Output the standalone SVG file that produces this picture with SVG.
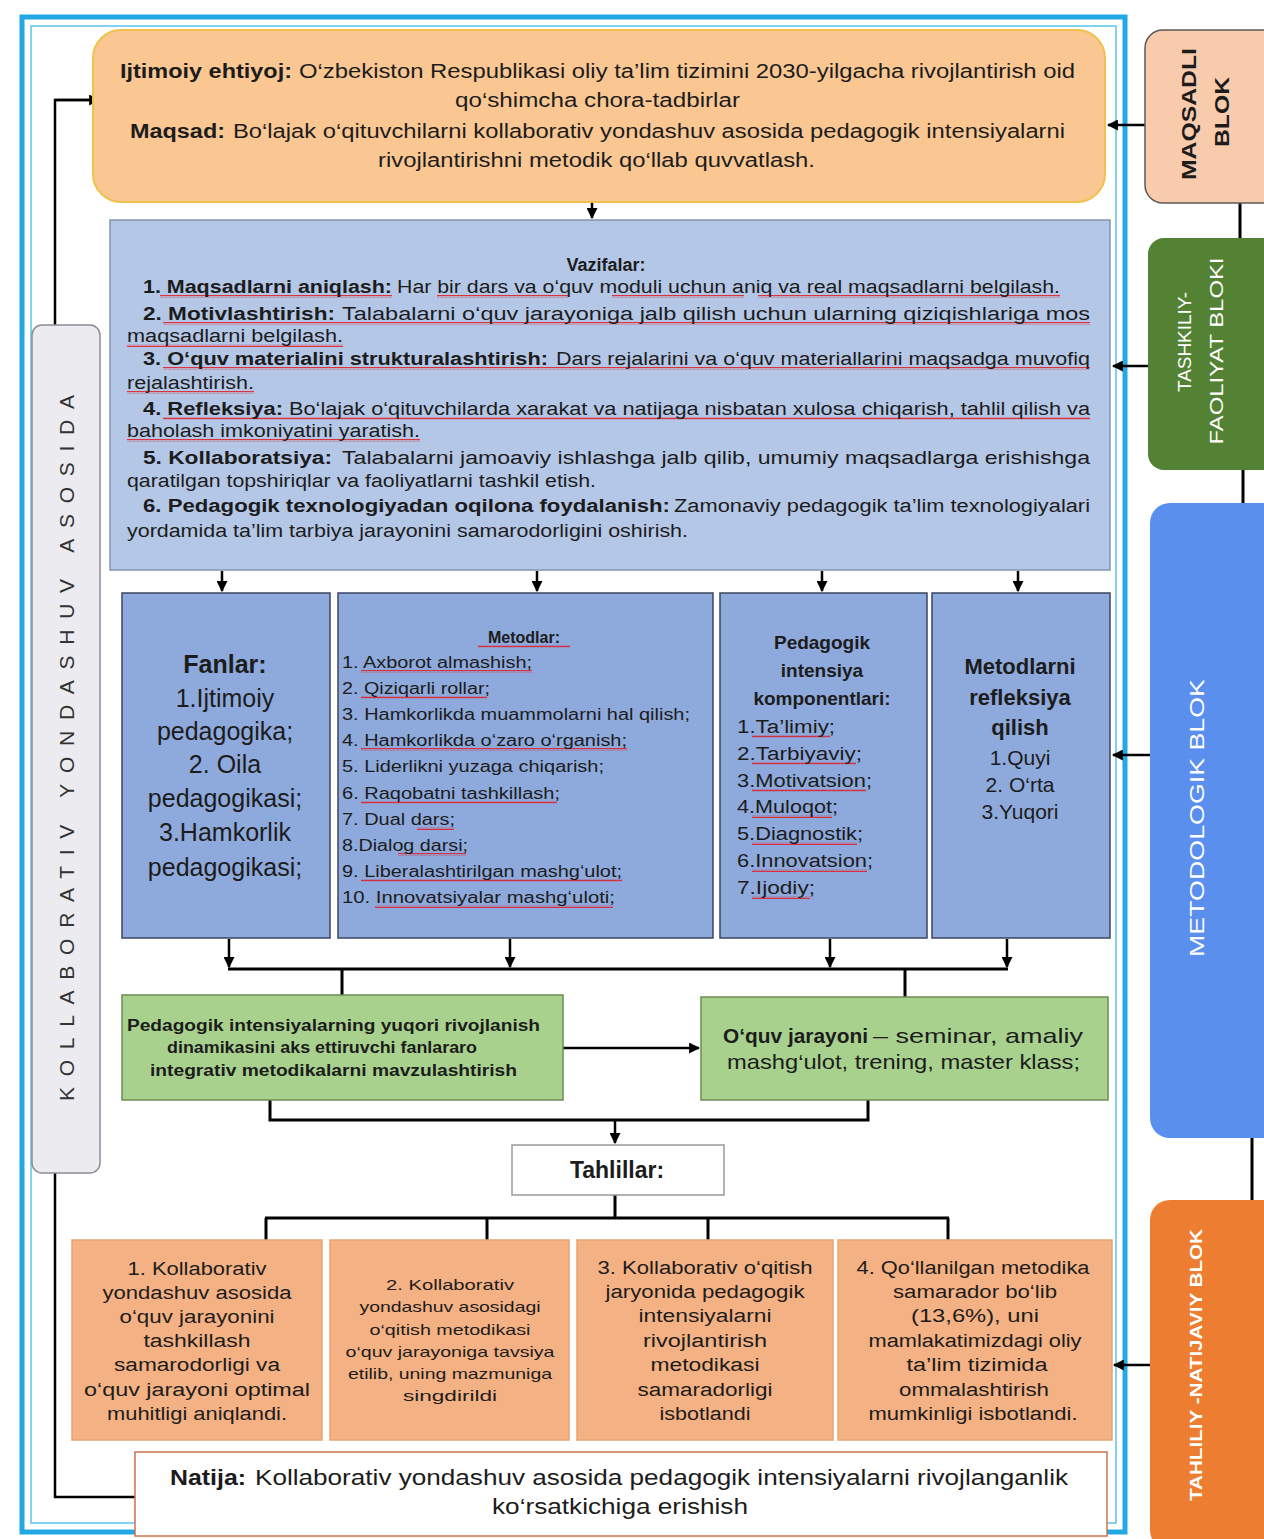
<svg xmlns="http://www.w3.org/2000/svg" width="1264" height="1539" viewBox="0 0 1264 1539">
<style>
text{font-family:"Liberation Sans",Arial,sans-serif;fill:#1c1c1c}
.b{font-weight:bold}
.w{fill:#ffffff}
.ln{fill:none;stroke:#000;stroke-width:3}
.ar{fill:none;stroke:#000;stroke-width:2.5;marker-end:url(#ah)}
.col{fill:#8EA9DB;stroke:#3A4660;stroke-width:1.5}
.org{fill:#F4B183;stroke:#E9A474;stroke-width:1.5}
.grn{fill:#A9D18E;stroke:#6E8C52;stroke-width:1.5}
.wv{fill:url(#wave)}
</style>
<defs>
<marker id="ah" viewBox="0 0 10 10" refX="9" refY="5" markerWidth="4.4" markerHeight="4.4" orient="auto" markerUnits="strokeWidth">
<path d="M0,0 L10,5 L0,10 z" fill="#000"/>
</marker>
<pattern id="wave" width="4" height="3" patternUnits="userSpaceOnUse">
<path d="M0 2.3 L1 0.7 L2 2.3 L3 0.7 L4 2.3" fill="none" stroke="#E0202A" stroke-width="0.9"/>
</pattern>
</defs>
<rect width="1264" height="1539" fill="#ffffff"/>

<!-- frame -->
<g id="frame">
<rect x="22" y="17" width="1103" height="1515" fill="none" stroke="#22A8E4" stroke-width="5"/>
<rect x="31" y="26" width="1085" height="1497" fill="none" stroke="#5BC3EE" stroke-width="1.5"/>
</g>

<!-- connectors -->
<g id="connectors">
<polyline class="ln" points="135,1497 55,1497 55,100 92,100" style="stroke-width:2.5"/>
<path class="ar" d="M55,100 L99,100"/>
<path class="ar" d="M592,203 L592,218"/>
<path class="ar" d="M222,571 L222,591"/>
<path class="ar" d="M537,571 L537,591"/>
<path class="ar" d="M822,571 L822,591"/>
<path class="ar" d="M1018,571 L1018,591"/>
<path class="ar" d="M229,939 L229,967"/>
<path class="ar" d="M510,939 L510,967"/>
<path class="ar" d="M830,939 L830,967"/>
<path class="ar" d="M1007,939 L1007,967"/>
<path class="ln" d="M228,969 L1008,969 M342,969 L342,995 M905,969 L905,997"/>
<path class="ar" d="M563,1048 L699,1048"/>
<polyline class="ln" points="270,1100 270,1120 868,1120 868,1100"/>
<path class="ar" d="M615,1120 L615,1143"/>
<path class="ln" d="M615,1195 L615,1218 M265,1218 L949,1218 M266,1218 L266,1240 M487,1218 L487,1240 M708,1218 L708,1240 M948,1218 L948,1240"/>
<path class="ar" d="M1145,125 L1108,125"/>
<path class="ar" d="M1148,366 L1113,366"/>
<path class="ar" d="M1150,755 L1113,755"/>
<path class="ar" d="M1150,1365 L1114,1365"/>
<path class="ln" d="M1240,203 L1240,238 M1243,470 L1243,503 M1252,1138 L1252,1200"/>
</g>

<!-- top goal box -->
<g id="maqsad">
<rect x="93" y="30" width="1012" height="172" rx="28" fill="#FAC793" stroke="#F1C24B" stroke-width="2"/>
<text class="b" x="120" y="78" font-size="20" textLength="172" lengthAdjust="spacingAndGlyphs">Ijtimoiy ehtiyoj:</text>
<text x="299" y="78" font-size="20" textLength="776" lengthAdjust="spacingAndGlyphs">O‘zbekiston Respublikasi oliy ta’lim tizimini 2030-yilgacha rivojlantirish oid</text>
<text x="455" y="107" font-size="20" textLength="285" lengthAdjust="spacingAndGlyphs">qo‘shimcha chora-tadbirlar</text>
<text class="b" x="130" y="138" font-size="20" textLength="95" lengthAdjust="spacingAndGlyphs">Maqsad:</text>
<text x="233" y="138" font-size="20" textLength="832" lengthAdjust="spacingAndGlyphs">Bo‘lajak o‘qituvchilarni kollaborativ yondashuv asosida pedagogik intensiyalarni</text>
<text x="378" y="167" font-size="20" textLength="437" lengthAdjust="spacingAndGlyphs">rivojlantirishni metodik qo‘llab quvvatlash.</text>
</g>

<!-- vazifalar -->
<g id="vazifalar">
<rect x="110" y="220" width="1000" height="350" fill="#B4C7E7" stroke="#8494B0" stroke-width="1.5"/>
<text class="b" x="606" y="271" font-size="18" text-anchor="middle">Vazifalar:</text>
<rect class="wv" x="160" y="295" width="232" height="3"/>
<rect class="wv" x="437" y="295" width="131" height="3"/>
<rect class="wv" x="612" y="295" width="132" height="3"/>
<rect class="wv" x="758" y="295" width="302" height="3"/>
<rect class="wv" x="163" y="322" width="927" height="3"/>
<rect class="wv" x="127" y="344" width="216" height="3"/>
<rect class="wv" x="163" y="367" width="927" height="3"/>
<rect class="wv" x="127" y="391" width="127" height="3"/>
<rect class="wv" x="163" y="417" width="927" height="3"/>
<rect class="wv" x="127" y="439" width="293" height="3"/>
<text class="b" x="143" y="293" font-size="18" textLength="249" lengthAdjust="spacingAndGlyphs">1. Maqsadlarni aniqlash:</text>
<text x="397" y="293" font-size="18" textLength="663" lengthAdjust="spacingAndGlyphs">Har bir dars va o‘quv moduli uchun aniq va real maqsadlarni belgilash.</text>
<text class="b" x="143" y="320" font-size="18" textLength="192" lengthAdjust="spacingAndGlyphs">2.  Motivlashtirish:</text>
<text x="342" y="320" font-size="18" textLength="748" lengthAdjust="spacingAndGlyphs">Talabalarni o‘quv jarayoniga jalb  qilish uchun ularning qiziqishlariga mos</text>
<text x="127" y="342" font-size="18" textLength="216" lengthAdjust="spacingAndGlyphs">maqsadlarni belgilash.</text>
<text class="b" x="143" y="365" font-size="18" textLength="405" lengthAdjust="spacingAndGlyphs">3. O‘quv materialini strukturalashtirish:</text>
<text x="556" y="365" font-size="18" textLength="534" lengthAdjust="spacingAndGlyphs">Dars rejalarini va o‘quv materiallarini maqsadga muvofiq</text>
<text x="127" y="389" font-size="18" textLength="127" lengthAdjust="spacingAndGlyphs">rejalashtirish.</text>
<text class="b" x="143" y="415" font-size="18" textLength="140" lengthAdjust="spacingAndGlyphs">4. Refleksiya:</text>
<text x="289" y="415" font-size="18" textLength="801" lengthAdjust="spacingAndGlyphs">Bo‘lajak o‘qituvchilarda xarakat va natijaga nisbatan xulosa chiqarish, tahlil qilish va</text>
<text x="127" y="437" font-size="18" textLength="293" lengthAdjust="spacingAndGlyphs">baholash imkoniyatini yaratish.</text>
<text class="b" x="143" y="464" font-size="18" textLength="189" lengthAdjust="spacingAndGlyphs">5.  Kollaboratsiya:</text>
<text x="342" y="464" font-size="18" textLength="748" lengthAdjust="spacingAndGlyphs">Talabalarni jamoaviy ishlashga jalb qilib, umumiy  maqsadlarga erishishga</text>
<text x="127" y="487" font-size="18" textLength="469" lengthAdjust="spacingAndGlyphs">qaratilgan topshiriqlar va faoliyatlarni tashkil etish.</text>
<text class="b" x="143" y="512" font-size="18" textLength="527" lengthAdjust="spacingAndGlyphs">6. Pedagogik texnologiyadan oqilona foydalanish:</text>
<text x="674" y="512" font-size="18" textLength="416" lengthAdjust="spacingAndGlyphs">Zamonaviy pedagogik ta’lim texnologiyalari</text>
<text x="127" y="537" font-size="18" textLength="561" lengthAdjust="spacingAndGlyphs">yordamida ta’lim tarbiya jarayonini samarodorligini oshirish.</text>
</g>

<!-- Fanlar -->
<g id="fanlar">
<rect class="col" x="122" y="593" width="208" height="345"/>
<text class="b" x="225" y="673" font-size="25" text-anchor="middle">Fanlar:</text>
<text x="225" y="707" font-size="25" text-anchor="middle">1.Ijtimoiy</text>
<text x="225" y="740" font-size="25" text-anchor="middle">pedagogika;</text>
<text x="225" y="773" font-size="25" text-anchor="middle">2. Oila</text>
<text x="225" y="807" font-size="25" text-anchor="middle">pedagogikasi;</text>
<text x="225" y="841" font-size="25" text-anchor="middle">3.Hamkorlik</text>
<text x="225" y="876" font-size="25" text-anchor="middle">pedagogikasi;</text>
</g>

<!-- Metodlar -->
<g id="metodlar">
<rect class="col" x="338" y="593" width="375" height="345"/>
<rect class="wv" x="478" y="645" width="92" height="3"/>
<rect class="wv" x="361" y="670" width="171" height="3"/>
<rect class="wv" x="361" y="696" width="126" height="3"/>
<rect class="wv" x="361" y="748" width="266" height="3"/>
<rect class="wv" x="361" y="801" width="196" height="3"/>
<rect class="wv" x="417" y="827" width="37" height="3"/>
<rect class="wv" x="398" y="853" width="68" height="3"/>
<rect class="wv" x="361" y="879" width="261" height="3"/>
<rect class="wv" x="375" y="905" width="238" height="3"/>
<text class="b" x="524" y="643" font-size="16" text-anchor="middle">Metodlar:</text>
<text x="342" y="668" font-size="16" textLength="190" lengthAdjust="spacingAndGlyphs">1. Axborot almashish;</text>
<text x="342" y="694" font-size="16" textLength="148" lengthAdjust="spacingAndGlyphs">2. Qiziqarli rollar;</text>
<text x="342" y="720" font-size="16" textLength="348" lengthAdjust="spacingAndGlyphs">3. Hamkorlikda  muammolarni hal qilish;</text>
<text x="342" y="746" font-size="16" textLength="285" lengthAdjust="spacingAndGlyphs">4. Hamkorlikda o‘zaro o‘rganish;</text>
<text x="342" y="772" font-size="16" textLength="262" lengthAdjust="spacingAndGlyphs">5. Liderlikni yuzaga chiqarish;</text>
<text x="342" y="799" font-size="16" textLength="218" lengthAdjust="spacingAndGlyphs">6. Raqobatni tashkillash;</text>
<text x="342" y="825" font-size="16" textLength="113" lengthAdjust="spacingAndGlyphs">7. Dual dars;</text>
<text x="342" y="851" font-size="16" textLength="126" lengthAdjust="spacingAndGlyphs">8.Dialog darsi;</text>
<text x="342" y="877" font-size="16" textLength="280" lengthAdjust="spacingAndGlyphs">9. Liberalashtirilgan mashg‘ulot;</text>
<text x="342" y="903" font-size="16" textLength="273" lengthAdjust="spacingAndGlyphs">10. Innovatsiyalar mashg‘uloti;</text>
</g>

<!-- Pedagogik intensiya -->
<g id="komponentlar">
<rect class="col" x="720" y="593" width="207" height="345"/>
<rect class="wv" x="752" y="735" width="78" height="3"/>
<rect class="wv" x="752" y="762" width="104" height="3"/>
<rect class="wv" x="752" y="789" width="114" height="3"/>
<rect class="wv" x="752" y="815" width="80" height="3"/>
<rect class="wv" x="752" y="842" width="105" height="3"/>
<rect class="wv" x="752" y="869" width="115" height="3"/>
<rect class="wv" x="752" y="896" width="58" height="3"/>
<text class="b" x="822" y="649" font-size="19" text-anchor="middle">Pedagogik</text>
<text class="b" x="822" y="677" font-size="19" text-anchor="middle">intensiya</text>
<text class="b" x="822" y="705" font-size="19" text-anchor="middle">komponentlari:</text>
<text x="737" y="733" font-size="18" textLength="98" lengthAdjust="spacingAndGlyphs">1.Ta’limiy;</text>
<text x="737" y="760" font-size="18" textLength="125" lengthAdjust="spacingAndGlyphs">2.Tarbiyaviy;</text>
<text x="737" y="787" font-size="18" textLength="135" lengthAdjust="spacingAndGlyphs">3.Motivatsion;</text>
<text x="737" y="813" font-size="18" textLength="101" lengthAdjust="spacingAndGlyphs">4.Muloqot;</text>
<text x="737" y="840" font-size="18" textLength="126" lengthAdjust="spacingAndGlyphs">5.Diagnostik;</text>
<text x="737" y="867" font-size="18" textLength="136" lengthAdjust="spacingAndGlyphs">6.Innovatsion;</text>
<text x="737" y="894" font-size="18" textLength="78" lengthAdjust="spacingAndGlyphs">7.Ijodiy;</text>
</g>

<!-- Metodlarni refleksiya -->
<g id="refleksiya">
<rect class="col" x="932" y="593" width="178" height="345"/>
<text class="b" x="1020" y="674" font-size="22" text-anchor="middle">Metodlarni</text>
<text class="b" x="1020" y="705" font-size="22" text-anchor="middle">refleksiya</text>
<text class="b" x="1020" y="735" font-size="22" text-anchor="middle">qilish</text>
<text x="1020" y="765" font-size="21" text-anchor="middle">1.Quyi</text>
<text x="1020" y="792" font-size="21" text-anchor="middle">2. O‘rta</text>
<text x="1020" y="819" font-size="21" text-anchor="middle">3.Yuqori</text>
</g>

<!-- green boxes -->
<g id="mavzulashtirish">
<rect class="grn" x="122" y="995" width="441" height="105"/>
<text class="b" x="127" y="1031" font-size="16" textLength="413" lengthAdjust="spacingAndGlyphs">Pedagogik intensiyalarning yuqori rivojlanish</text>
<text class="b" x="167" y="1053" font-size="16" textLength="310" lengthAdjust="spacingAndGlyphs">dinamikasini aks ettiruvchi fanlararo</text>
<text class="b" x="150" y="1076" font-size="16" textLength="367" lengthAdjust="spacingAndGlyphs">integrativ metodikalarni mavzulashtirish</text>
</g>
<g id="oquv-jarayoni">
<rect class="grn" x="701" y="997" width="407" height="103"/>
<text class="b" x="723" y="1043" font-size="21" textLength="145" lengthAdjust="spacingAndGlyphs">O‘quv jarayoni</text>
<text x="873" y="1043" font-size="21" textLength="210" lengthAdjust="spacingAndGlyphs">– seminar, amaliy</text>
<text x="727" y="1069" font-size="21" textLength="353" lengthAdjust="spacingAndGlyphs">mashg‘ulot, trening, master klass;</text>
</g>

<!-- Tahlillar -->
<g id="tahlillar">
<rect x="512" y="1145" width="212" height="50" fill="#ffffff" stroke="#9A9A9A" stroke-width="1.5"/>
<text class="b" x="617" y="1178" font-size="23" text-anchor="middle">Tahlillar:</text>
</g>

<!-- result boxes -->
<g id="natija-1">
<rect class="org" x="72" y="1240" width="250" height="200"/>
<text x="197" y="1275" font-size="18" text-anchor="middle" textLength="139" lengthAdjust="spacingAndGlyphs">1. Kollaborativ</text>
<text x="197" y="1299" font-size="18" text-anchor="middle" textLength="189" lengthAdjust="spacingAndGlyphs">yondashuv asosida</text>
<text x="197" y="1323" font-size="18" text-anchor="middle" textLength="155" lengthAdjust="spacingAndGlyphs">o‘quv jarayonini</text>
<text x="197" y="1347" font-size="18" text-anchor="middle" textLength="107" lengthAdjust="spacingAndGlyphs">tashkillash</text>
<text x="197" y="1371" font-size="18" text-anchor="middle" textLength="166" lengthAdjust="spacingAndGlyphs">samarodorligi va</text>
<text x="197" y="1396" font-size="18" text-anchor="middle" textLength="226" lengthAdjust="spacingAndGlyphs">o‘quv jarayoni optimal</text>
<text x="197" y="1420" font-size="18" text-anchor="middle" textLength="180" lengthAdjust="spacingAndGlyphs">muhitligi aniqlandi.</text>
</g>
<g id="natija-2">
<rect class="org" x="330" y="1240" width="239" height="200"/>
<text x="450" y="1290" font-size="15" text-anchor="middle" textLength="128" lengthAdjust="spacingAndGlyphs">2. Kollaborativ</text>
<text x="450" y="1312" font-size="15" text-anchor="middle" textLength="181" lengthAdjust="spacingAndGlyphs">yondashuv asosidagi</text>
<text x="450" y="1335" font-size="15" text-anchor="middle" textLength="161" lengthAdjust="spacingAndGlyphs">o‘qitish metodikasi</text>
<text x="450" y="1357" font-size="15" text-anchor="middle" textLength="209" lengthAdjust="spacingAndGlyphs">o‘quv jarayoniga tavsiya</text>
<text x="450" y="1379" font-size="15" text-anchor="middle" textLength="204" lengthAdjust="spacingAndGlyphs">etilib, uning mazmuniga</text>
<text x="450" y="1401" font-size="15" text-anchor="middle" textLength="94" lengthAdjust="spacingAndGlyphs">singdirildi</text>
</g>
<g id="natija-3">
<rect class="org" x="577" y="1240" width="256" height="200"/>
<text x="705" y="1274" font-size="18" text-anchor="middle" textLength="215" lengthAdjust="spacingAndGlyphs">3. Kollaborativ o‘qitish</text>
<text x="705" y="1298" font-size="18" text-anchor="middle" textLength="199" lengthAdjust="spacingAndGlyphs">jaryonida pedagogik</text>
<text x="705" y="1322" font-size="18" text-anchor="middle" textLength="133" lengthAdjust="spacingAndGlyphs">intensiyalarni</text>
<text x="705" y="1347" font-size="18" text-anchor="middle" textLength="124" lengthAdjust="spacingAndGlyphs">rivojlantirish</text>
<text x="705" y="1371" font-size="18" text-anchor="middle" textLength="109" lengthAdjust="spacingAndGlyphs">metodikasi</text>
<text x="705" y="1396" font-size="18" text-anchor="middle" textLength="135" lengthAdjust="spacingAndGlyphs">samaradorligi</text>
<text x="705" y="1420" font-size="18" text-anchor="middle" textLength="91" lengthAdjust="spacingAndGlyphs">isbotlandi</text>
</g>
<g id="natija-4">
<rect class="org" x="838" y="1240" width="274" height="200"/>
<text x="973" y="1274" font-size="18" text-anchor="middle" textLength="233" lengthAdjust="spacingAndGlyphs">4. Qo‘llanilgan metodika</text>
<text x="975" y="1298" font-size="18" text-anchor="middle" textLength="164" lengthAdjust="spacingAndGlyphs">samarador bo‘lib</text>
<text x="975" y="1322" font-size="18" text-anchor="middle" textLength="128" lengthAdjust="spacingAndGlyphs">(13,6%), uni</text>
<text x="975" y="1347" font-size="18" text-anchor="middle" textLength="213" lengthAdjust="spacingAndGlyphs">mamlakatimizdagi oliy</text>
<text x="977" y="1371" font-size="18" text-anchor="middle" textLength="141" lengthAdjust="spacingAndGlyphs">ta’lim tizimida</text>
<text x="974" y="1396" font-size="18" text-anchor="middle" textLength="150" lengthAdjust="spacingAndGlyphs">ommalashtirish</text>
<text x="973" y="1420" font-size="18" text-anchor="middle" textLength="209" lengthAdjust="spacingAndGlyphs">mumkinligi isbotlandi.</text>
</g>

<!-- Natija -->
<g id="natija">
<rect x="135" y="1452" width="972" height="84" fill="#ffffff" stroke="#C8744E" stroke-width="1.5"/>
<text class="b" x="170" y="1485" font-size="22" textLength="76" lengthAdjust="spacingAndGlyphs">Natija:</text>
<text x="255" y="1485" font-size="22" textLength="813" lengthAdjust="spacingAndGlyphs">Kollaborativ yondashuv asosida pedagogik intensiyalarni rivojlanganlik</text>
<text x="492" y="1514" font-size="22" textLength="256" lengthAdjust="spacingAndGlyphs">ko‘rsatkichiga erishish</text>
</g>

<!-- left side label -->
<g id="kollaborativ-label">
<rect x="32" y="325" width="68" height="848" rx="10" fill="#ECECF0" stroke="#8C8C94" stroke-width="1.5"/>
<text transform="translate(74,748) rotate(-90)" x="0" y="0" font-size="21" text-anchor="middle" textLength="706" lengthAdjust="spacing" style="fill:#333">KOLLABORATIV YONDASHUV ASOSIDA</text>
</g>

<!-- right side labels -->
<g id="maqsadli-blok">
<rect x="1145" y="30" width="140" height="173" rx="18" fill="#F8CBAD" stroke="#595959" stroke-width="1.5"/>
<text class="b" transform="translate(1196,114) rotate(-90)" font-size="21" text-anchor="middle" textLength="132" lengthAdjust="spacingAndGlyphs">MAQSADLI</text>
<text class="b" transform="translate(1229,112) rotate(-90)" font-size="21" text-anchor="middle" textLength="70" lengthAdjust="spacingAndGlyphs">BLOK</text>
</g>
<g id="tashkiliy-blok">
<rect x="1148" y="238" width="140" height="232" rx="16" fill="#548235"/>
<text class="w" transform="translate(1191,342) rotate(-90)" font-size="19" text-anchor="middle" textLength="100" lengthAdjust="spacingAndGlyphs">TASHKILIY-</text>
<text class="w" transform="translate(1223,351) rotate(-90)" font-size="19" text-anchor="middle" textLength="187" lengthAdjust="spacingAndGlyphs">FAOLIYAT BLOKI</text>
</g>
<g id="metodologik-blok">
<rect x="1150" y="503" width="140" height="635" rx="20" fill="#5B8FEE"/>
<text class="w" transform="translate(1204,818) rotate(-90)" font-size="21" text-anchor="middle" textLength="278" lengthAdjust="spacingAndGlyphs">METODOLOGIK  BLOK</text>
</g>
<g id="tahliliy-blok">
<rect x="1150" y="1200" width="140" height="350" rx="20" fill="#ED7D31"/>
<text class="w b" transform="translate(1202,1365) rotate(-90)" font-size="16" text-anchor="middle" textLength="272" lengthAdjust="spacingAndGlyphs">TAHLILIY -NATIJAVIY BLOK</text>
</g>
</svg>
